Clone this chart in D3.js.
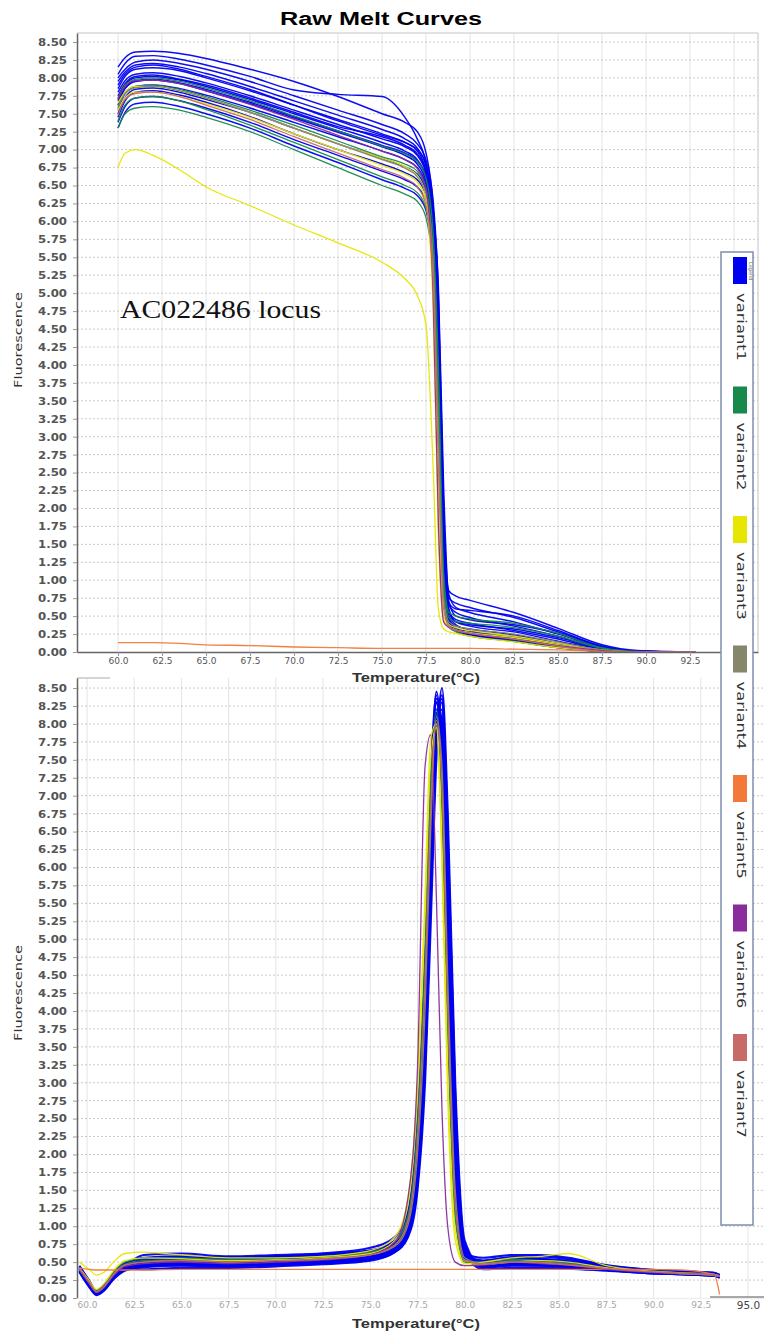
<!DOCTYPE html>
<html>
<head>
<meta charset="utf-8">
<script src="https://cdn.jsdelivr.net/npm/d3@7"></script>
<style>
  body { margin: 0; background: #fff; }
  svg { display: block; }
</style>
</head>
<body>
<script>
// ---- data ----
var variantNames = ["variant1", "variant2", "variant3", "variant4", "variant5", "variant6", "variant7"];
var variantColors = ["#0000f0", "#17894a", "#e6e600", "#86866a", "#f2793a", "#8a2c9c", "#c86a68"];

var yTicks = [0, 0.25, 0.5, 0.75, 1, 1.25, 1.5, 1.75, 2, 2.25, 2.5, 2.75, 3, 3.25, 3.5, 3.75, 4, 4.25,
  4.5, 4.75, 5, 5.25, 5.5, 5.75, 6, 6.25, 6.5, 6.75, 7, 7.25, 7.5, 7.75, 8, 8.25, 8.5];
var xTicksTop = [60, 62.5, 65, 67.5, 70, 72.5, 75, 77.5, 80, 82.5, 85, 87.5, 90, 92.5, 95];
var xTicksBot = [60, 62.5, 65, 67.5, 70, 72.5, 75, 77.5, 80, 82.5, 85, 87.5, 90, 92.5, 95];

// raw melt curves (top)
var tempTop = [60.0, 60.4, 61.0, 62.0, 63.5, 65.0, 67.5, 70.0, 72.5, 75.0, 76.3, 77.0, 77.5, 77.9, 78.2, 78.5, 78.8, 79.2, 80.0, 82.5, 85.0, 87.5, 89.5, 92.8];

var topVariant1 = [
  [8.15,8.28,8.36,8.37,8.34,8.27,8.12,7.95,7.74,7.50,7.38,7.25,6.95,6.20,4.60,1.60,0.85,0.78,0.72,0.55,0.33,0.10,0.02,0.00],
  [8.05,8.20,8.30,8.31,8.26,8.18,8.02,7.83,7.77,7.74,7.45,7.15,6.80,5.90,4.00,1.30,0.75,0.68,0.62,0.48,0.28,0.08,0.01,0.00],
  [8.00,8.12,8.22,8.25,8.20,8.12,7.95,7.75,7.55,7.35,7.22,7.08,6.85,6.30,5.00,2.00,0.80,0.62,0.55,0.42,0.25,0.07,0.01,0.00],
  [7.95,8.08,8.18,8.20,8.15,8.06,7.88,7.68,7.48,7.28,7.15,7.02,6.78,6.10,4.40,1.40,0.65,0.55,0.48,0.36,0.22,0.05,0.01,0.00],
  [7.85,8.02,8.12,8.14,8.10,8.00,7.82,7.62,7.42,7.22,7.10,6.98,6.70,5.90,4.10,1.20,0.55,0.45,0.40,0.30,0.18,0.04,0.00,0.00],
  [7.80,7.96,8.05,8.07,8.02,7.93,7.75,7.55,7.35,7.15,7.04,6.92,6.66,6.05,4.70,1.70,0.60,0.42,0.36,0.28,0.15,0.04,0.00,0.00],
  [7.70,7.90,8.00,8.02,7.97,7.88,7.70,7.50,7.30,7.10,6.98,6.86,6.60,5.80,3.90,1.10,0.45,0.36,0.32,0.24,0.12,0.03,0.00,0.00],
  [7.62,7.85,7.95,7.97,7.92,7.82,7.64,7.44,7.24,7.04,6.92,6.80,6.55,5.95,4.50,1.50,0.50,0.38,0.30,0.22,0.11,0.02,0.00,0.00],
  [7.75,7.92,8.02,8.04,7.98,7.90,7.72,7.52,7.32,7.18,7.06,6.94,6.70,6.15,5.10,2.30,0.70,0.50,0.45,0.38,0.26,0.06,0.01,0.00],
  [7.55,7.78,7.88,7.90,7.85,7.76,7.58,7.38,7.18,6.98,6.86,6.75,6.50,5.70,3.80,1.00,0.42,0.33,0.28,0.20,0.10,0.02,0.00,0.00],
  [7.50,7.72,7.84,7.86,7.80,7.70,7.52,7.30,7.08,6.88,6.76,6.66,6.42,5.80,4.20,1.30,0.45,0.32,0.26,0.18,0.08,0.02,0.00,0.00],
  [7.45,7.68,7.80,7.82,7.76,7.66,7.46,7.22,7.00,6.80,6.68,6.58,6.36,5.60,3.70,0.95,0.40,0.30,0.24,0.16,0.07,0.01,0.00,0.00],
  [7.38,7.60,7.72,7.74,7.68,7.58,7.38,7.14,6.92,6.70,6.58,6.48,6.28,5.70,4.00,1.10,0.42,0.31,0.25,0.17,0.08,0.01,0.00,0.00],
  [7.90,8.05,8.15,8.18,8.12,8.02,7.84,7.62,7.40,7.20,7.10,7.00,6.78,6.20,4.90,1.80,0.68,0.60,0.58,0.50,0.30,0.08,0.01,0.00],
  [7.68,7.86,7.96,7.98,7.93,7.84,7.66,7.46,7.26,7.06,6.95,6.84,6.62,6.00,4.60,1.60,0.55,0.42,0.38,0.32,0.20,0.05,0.00,0.00],
  [7.30,7.52,7.64,7.66,7.60,7.50,7.30,7.05,6.82,6.58,6.46,6.36,6.15,5.50,3.60,0.90,0.38,0.30,0.24,0.15,0.06,0.01,0.00,0.00]
];
var topVariant2 = [
  [7.30,7.50,7.58,7.60,7.55,7.45,7.25,7.00,6.75,6.50,6.38,6.28,6.05,5.30,3.20,0.80,0.35,0.28,0.22,0.15,0.06,0.01,0.00,0.00],
  [7.40,7.62,7.72,7.74,7.68,7.56,7.34,7.10,6.86,6.62,6.50,6.40,6.18,5.40,3.40,0.85,0.38,0.30,0.26,0.20,0.10,0.02,0.00,0.00],
  [7.60,7.80,7.88,7.90,7.84,7.74,7.55,7.34,7.12,6.90,6.80,6.70,6.45,5.60,3.60,0.95,0.48,0.42,0.40,0.34,0.22,0.05,0.00,0.00],
  [7.72,7.90,7.98,8.00,7.95,7.86,7.68,7.47,7.26,7.05,6.94,6.84,6.60,5.85,4.00,1.10,0.55,0.50,0.46,0.40,0.26,0.06,0.01,0.00]
];
var topVariant3 = [
  [6.75,6.95,7.00,6.92,6.72,6.48,6.22,5.95,5.70,5.43,5.20,4.97,4.55,2.60,0.60,0.32,0.28,0.26,0.22,0.14,0.06,0.01,0.00,0.00],
  [7.55,7.72,7.80,7.80,7.74,7.64,7.45,7.22,7.00,6.78,6.66,6.55,6.25,4.80,1.60,0.45,0.35,0.31,0.27,0.20,0.10,0.02,0.00,0.00],
  [7.65,7.80,7.88,7.88,7.82,7.72,7.52,7.30,7.08,6.88,6.76,6.64,6.35,5.10,2.00,0.50,0.38,0.34,0.30,0.22,0.12,0.03,0.00,0.00]
];
var topVariant4 = [
  [7.58,7.78,7.86,7.88,7.82,7.72,7.52,7.30,7.08,6.86,6.74,6.62,6.38,5.50,3.10,0.75,0.42,0.36,0.32,0.25,0.14,0.03,0.00,0.00]
];
var topVariant5 = [
  [0.13,0.13,0.13,0.13,0.12,0.10,0.09,0.07,0.06,0.05,0.05,0.05,0.05,0.05,0.05,0.05,0.05,0.05,0.05,0.04,0.03,0.01,0.00,0.00]
];
var topVariant6 = [
  [7.70,7.88,7.96,7.97,7.92,7.82,7.63,7.42,7.20,6.98,6.86,6.74,6.45,5.00,1.80,0.42,0.34,0.30,0.26,0.18,0.09,0.02,0.00,0.00]
];
var topVariant7 = [
  [7.48,7.70,7.78,7.80,7.74,7.62,7.42,7.18,6.95,6.72,6.60,6.48,6.22,5.20,2.60,0.60,0.36,0.30,0.26,0.18,0.08,0.01,0.00,0.00]
];

// derivative melt peaks (bottom)
var tempBot = [59.6, 60.1, 60.5, 60.9, 61.4, 62.0, 63.0, 65.0, 67.5, 70.0, 72.5, 75.0, 76.3, 77.0, 77.5, 77.9, 78.2, 78.5, 78.8, 79.1, 79.5, 80.0, 81.0, 82.5, 84.0, 85.5, 87.5, 89.5, 91.5, 93.2, 93.5];

var botVariant1 = [
  [0.42,0.20,0.06,0.14,0.30,0.44,0.50,0.52,0.50,0.52,0.55,0.60,0.72,1.00,1.90,3.80,6.20,8.20,7.90,5.40,2.00,0.60,0.48,0.52,0.50,0.48,0.42,0.38,0.36,0.33,0.30],
  [0.38,0.18,0.05,0.12,0.28,0.40,0.46,0.48,0.47,0.50,0.52,0.56,0.66,0.90,1.60,3.30,5.70,7.90,8.35,6.20,2.60,0.70,0.45,0.48,0.47,0.45,0.40,0.36,0.34,0.32,0.29],
  [0.40,0.22,0.08,0.16,0.33,0.46,0.54,0.56,0.55,0.56,0.58,0.63,0.76,1.10,2.20,4.30,6.80,8.45,7.60,4.80,1.60,0.58,0.50,0.55,0.53,0.50,0.43,0.38,0.36,0.34,0.31],
  [0.36,0.16,0.04,0.10,0.26,0.38,0.43,0.45,0.44,0.46,0.48,0.53,0.64,0.85,1.50,3.00,5.20,7.50,8.50,6.80,3.00,0.80,0.42,0.45,0.45,0.43,0.39,0.35,0.33,0.31,0.28],
  [0.44,0.25,0.10,0.18,0.35,0.48,0.56,0.58,0.57,0.58,0.60,0.66,0.80,1.20,2.50,4.80,7.20,8.40,7.20,4.20,1.30,0.55,0.52,0.56,0.55,0.52,0.45,0.40,0.37,0.35,0.32],
  [0.40,0.20,0.07,0.13,0.29,0.42,0.48,0.50,0.49,0.50,0.53,0.58,0.70,0.95,1.75,3.55,5.95,8.05,8.20,5.80,2.30,0.65,0.47,0.50,0.49,0.46,0.41,0.37,0.35,0.33,0.30],
  [0.37,0.19,0.06,0.12,0.27,0.39,0.44,0.46,0.46,0.48,0.50,0.55,0.67,0.92,1.70,3.40,5.80,8.00,8.40,6.10,2.50,0.70,0.44,0.46,0.46,0.44,0.40,0.36,0.33,0.31,0.29],
  [0.43,0.23,0.09,0.17,0.34,0.47,0.52,0.55,0.53,0.55,0.57,0.62,0.75,1.05,2.05,4.05,6.50,8.30,7.70,5.10,1.80,0.60,0.50,0.54,0.52,0.50,0.44,0.39,0.36,0.34,0.31],
  [0.39,0.21,0.07,0.14,0.31,0.44,0.60,0.62,0.58,0.60,0.62,0.66,0.78,1.08,2.10,4.10,6.40,8.10,7.80,5.30,1.90,0.62,0.56,0.60,0.60,0.56,0.46,0.40,0.37,0.35,0.32],
  [0.41,0.20,0.06,0.13,0.29,0.41,0.40,0.42,0.42,0.44,0.47,0.52,0.64,0.88,1.65,3.50,5.90,8.00,8.10,5.60,2.20,0.62,0.40,0.42,0.42,0.41,0.38,0.35,0.33,0.31,0.29],
  [0.42,0.22,0.08,0.15,0.32,0.46,0.52,0.55,0.56,0.58,0.62,0.70,0.85,1.20,2.30,4.50,6.90,8.30,7.40,4.60,1.50,0.58,0.52,0.56,0.58,0.54,0.45,0.39,0.36,0.34,0.31],
  [0.38,0.19,0.06,0.12,0.28,0.40,0.47,0.49,0.48,0.50,0.52,0.57,0.68,0.94,1.80,3.70,6.10,8.15,8.05,5.50,2.10,0.63,0.46,0.49,0.48,0.46,0.41,0.37,0.34,0.32,0.30],
  [0.45,0.24,0.09,0.17,0.35,0.48,0.55,0.57,0.55,0.57,0.60,0.64,0.74,1.00,1.85,3.75,6.25,8.35,8.00,5.50,2.05,0.63,0.52,0.57,0.54,0.50,0.44,0.39,0.36,0.34,0.31],
  [0.37,0.17,0.05,0.11,0.27,0.39,0.45,0.47,0.45,0.47,0.50,0.54,0.65,0.88,1.60,3.20,5.50,7.70,8.30,6.50,2.80,0.75,0.44,0.46,0.45,0.43,0.39,0.35,0.33,0.31,0.29]
];
var botVariant2 = [
  [0.40,0.24,0.10,0.18,0.36,0.50,0.55,0.56,0.54,0.55,0.58,0.64,0.78,1.15,2.40,4.70,7.10,8.20,7.00,3.90,1.20,0.52,0.50,0.54,0.52,0.48,0.42,0.38,0.35,0.33,0.31],
  [0.39,0.22,0.09,0.16,0.34,0.47,0.52,0.53,0.51,0.53,0.56,0.61,0.74,1.10,2.30,4.60,7.00,8.00,6.80,3.70,1.10,0.50,0.48,0.52,0.50,0.47,0.41,0.37,0.34,0.32,0.30]
];
var botVariant3 = [
  [0.50,0.40,0.32,0.36,0.50,0.62,0.64,0.60,0.56,0.56,0.58,0.66,0.85,1.40,3.00,5.60,7.80,8.00,6.00,2.80,0.80,0.48,0.50,0.56,0.58,0.62,0.45,0.38,0.35,0.33,0.31],
  [0.42,0.25,0.12,0.20,0.38,0.52,0.56,0.55,0.52,0.53,0.56,0.62,0.80,1.30,2.80,5.30,7.50,7.95,6.20,3.10,0.95,0.48,0.47,0.50,0.52,0.50,0.42,0.37,0.34,0.32,0.30]
];
var botVariant4 = [
  [0.40,0.21,0.08,0.15,0.32,0.45,0.50,0.52,0.50,0.52,0.55,0.60,0.72,1.02,2.00,4.00,6.50,8.10,7.40,4.50,1.50,0.56,0.48,0.51,0.50,0.47,0.41,0.37,0.35,0.33,0.31]
];
var botVariant5 = [
  [0.42,0.40,0.39,0.39,0.39,0.39,0.39,0.40,0.40,0.40,0.40,0.40,0.40,0.40,0.40,0.40,0.40,0.40,0.40,0.40,0.40,0.40,0.40,0.40,0.40,0.40,0.40,0.40,0.39,0.33,0.05]
];
var botVariant6 = [
  [0.40,0.22,0.08,0.15,0.31,0.44,0.48,0.50,0.48,0.50,0.53,0.60,0.78,1.40,3.20,7.40,7.85,5.60,2.60,1.00,0.50,0.45,0.46,0.50,0.48,0.46,0.40,0.36,0.34,0.32,0.30]
];
var botVariant7 = [
  [0.41,0.23,0.09,0.16,0.33,0.46,0.50,0.52,0.50,0.52,0.54,0.60,0.74,1.08,2.20,4.40,6.80,8.05,7.10,4.10,1.30,0.52,0.47,0.50,0.49,0.46,0.41,0.37,0.34,0.32,0.30]
];

var topSeries = [topVariant1, topVariant2, topVariant3, topVariant4, topVariant5, topVariant6, topVariant7];
var botSeries = [botVariant1, botVariant2, botVariant3, botVariant4, botVariant5, botVariant6, botVariant7];

// ---- drawing ----
var W = 764, H = 1336;
var svg = d3.select("body").append("svg")
    .attr("width", W)
    .attr("height", H);

svg.append("rect").attr("width", W).attr("height", H).attr("fill", "#fff");

var fmt2 = d3.format(".2f");
var fmt1 = d3.format(".1f");

function drawPanel(cfg) {
    var x = d3.scaleLinear().domain(cfg.xDomain).range([cfg.left, cfg.right]);
    var y = d3.scaleLinear().domain([0, cfg.yMax]).range([cfg.bottom, cfg.top]);
    var g = svg.append("g");

    // grid
    g.append("g").selectAll("line")
        .data(cfg.xTicks.filter(d => x(d) < cfg.right))
        .enter().append("line")
        .attr("x1", d => x(d)).attr("x2", d => x(d))
        .attr("y1", cfg.top).attr("y2", cfg.bottom)
        .attr("stroke", "#e4e4e4").attr("stroke-width", 1);
    g.append("g").selectAll("line")
        .data(yTicks.slice(1))
        .enter().append("line")
        .attr("x1", cfg.left).attr("x2", cfg.right)
        .attr("y1", d => y(d)).attr("y2", d => y(d))
        .attr("stroke", "#c9c9c9").attr("stroke-width", 1)
        .attr("stroke-dasharray", "2,2");

    if (cfg.frame) {
        g.append("path")
            .attr("d", `M${cfg.left},${cfg.top}H${cfg.right}V${cfg.bottom}`)
            .attr("fill", "none").attr("stroke", "#c4c4c4");
    } else {
        g.append("line")
            .attr("x1", cfg.left).attr("x2", cfg.left + 33)
            .attr("y1", cfg.top).attr("y2", cfg.top)
            .attr("stroke", "#aaa");
    }

    // curves
    var clipId = "clip" + cfg.id;
    svg.append("clipPath").attr("id", clipId).append("rect")
        .attr("x", cfg.left).attr("y", cfg.top)
        .attr("width", cfg.right - cfg.left).attr("height", cfg.bottom - cfg.top);

    var line = d3.line()
        .x((d, i) => x(cfg.temps[i]))
        .y(d => y(d))
        .curve(d3.curveMonotoneX);

    var curveG = g.append("g").attr("clip-path", `url(#${clipId})`);
    cfg.series.forEach((curves, k) => {
        curveG.append("g").selectAll("path")
            .data(curves)
            .enter().append("path")
            .attr("d", line)
            .attr("fill", "none")
            .attr("stroke", variantColors[k])
            .attr("stroke-width", k === 0 ? cfg.blueWidth : 1.3)
            .attr("stroke-opacity", 0.95);
    });

    // y axis
    var yAxis = g.append("g")
        .attr("transform", `translate(${cfg.left},0)`)
        .call(d3.axisLeft(y).tickValues(yTicks).tickFormat(fmt2).tickSize(4).tickPadding(6).tickSizeOuter(0));
    yAxis.select(".domain").attr("stroke", "#666").attr("stroke-width", 1.5);
    yAxis.selectAll(".tick line").attr("stroke", "#999");
    yAxis.selectAll("text")
        .attr("font-family", "DejaVu Sans").attr("font-weight", "bold")
        .attr("font-size", 10.5).attr("fill", "#555")
        .attr("textLength", 29).attr("lengthAdjust", "spacingAndGlyphs");

    // x axis
    var xAxis = g.append("g")
        .attr("transform", `translate(0,${cfg.bottom})`)
        .call(d3.axisBottom(x).tickValues(cfg.xTicks).tickFormat(fmt1).tickSize(cfg.xTickSize).tickPadding(cfg.xPad).tickSizeOuter(0));
    xAxis.select(".domain").attr("stroke", cfg.xDomainColor).attr("stroke-width", 1.5);
    xAxis.selectAll(".tick line").attr("stroke", "#999");
    xAxis.selectAll("text")
        .attr("font-family", "DejaVu Sans")
        .attr("font-size", 9).attr("fill", cfg.xLabelColor);

    return { x: x, y: y, xAxis: xAxis };
}

// bottom panel first (top panel sits over it)
var bot = drawPanel({
    id: "bot", left: 77, right: 764, top: 678, bottom: 1298, yMax: 8.64,
    xDomain: [59.47, 95.85], xTicks: xTicksBot, temps: tempBot, series: botSeries,
    frame: false, blueWidth: 2.1, xTickSize: 0, xPad: 4,
    xDomainColor: "#eeeeee", xLabelColor: "#a8a8a8"
});
bot.xAxis.selectAll(".tick").filter(d => d === 95)
    .select("text").attr("fill", "#444").attr("font-size", 10.5);
svg.append("line")
    .attr("x1", 710).attr("x2", 764).attr("y1", 1297).attr("y2", 1297)
    .attr("stroke", "#555").attr("stroke-width", 1.2);

var top = drawPanel({
    id: "top", left: 77, right: 758, top: 33, bottom: 652, yMax: 8.625,
    xDomain: [57.67, 96.36], xTicks: xTicksTop, temps: tempTop, series: topSeries,
    frame: true, blueWidth: 1.45, xTickSize: 4, xPad: 2,
    xDomainColor: "#666", xLabelColor: "#555"
});

// titles and axis names
svg.append("text")
    .attr("x", 381).attr("y", 25)
    .attr("text-anchor", "middle")
    .attr("font-family", "Liberation Sans").attr("font-weight", "bold").attr("font-size", 18)
    .attr("textLength", 202).attr("lengthAdjust", "spacingAndGlyphs")
    .text("Raw Melt Curves");

[682, 1328].forEach(yy => {
    svg.append("text")
        .attr("x", 416).attr("y", yy)
        .attr("text-anchor", "middle")
        .attr("font-family", "Liberation Sans").attr("font-weight", "bold").attr("font-size", 13.5)
        .attr("fill", "#333")
        .attr("textLength", 128).attr("lengthAdjust", "spacingAndGlyphs")
        .text("Temperature(°C)");
});

[340, 993].forEach(yy => {
    svg.append("text")
        .attr("transform", `translate(22,${yy}) rotate(-90)`)
        .attr("text-anchor", "middle")
        .attr("font-family", "DejaVu Sans").attr("font-size", 11)
        .attr("fill", "#333")
        .attr("textLength", 96).attr("lengthAdjust", "spacingAndGlyphs")
        .text("Fluorescence");
});

svg.append("text")
    .attr("x", 120).attr("y", 318)
    .attr("font-family", "Liberation Serif").attr("font-size", 25)
    .attr("fill", "#111")
    .attr("textLength", 201).attr("lengthAdjust", "spacingAndGlyphs")
    .text("AC022486 locus");

// legend
var legend = svg.append("g");
legend.append("rect")
    .attr("x", 721).attr("y", 252).attr("width", 32).attr("height", 973)
    .attr("fill", "#fff").attr("stroke", "#7d8fae").attr("stroke-width", 1.5);
legend.append("text")
    .attr("transform", "translate(749,262) rotate(90)")
    .attr("font-family", "DejaVu Sans").attr("font-size", 5).attr("fill", "#777")
    .text("Legend");

var item = legend.selectAll(".item")
    .data(variantNames)
    .enter().append("g")
    .attr("class", "item")
    .attr("transform", (d, i) => `translate(0,${257 + i * 129.5})`);
item.append("rect")
    .attr("x", 733).attr("y", 0).attr("width", 14).attr("height", 27)
    .attr("fill", (d, i) => variantColors[i]);
item.append("text")
    .attr("transform", "translate(736.5,36) rotate(90)")
    .attr("font-family", "DejaVu Sans").attr("font-size", 12.5)
    .attr("fill", "#333")
    .attr("textLength", 68).attr("lengthAdjust", "spacingAndGlyphs")
    .text(d => d);
</script>
</body>
</html>
